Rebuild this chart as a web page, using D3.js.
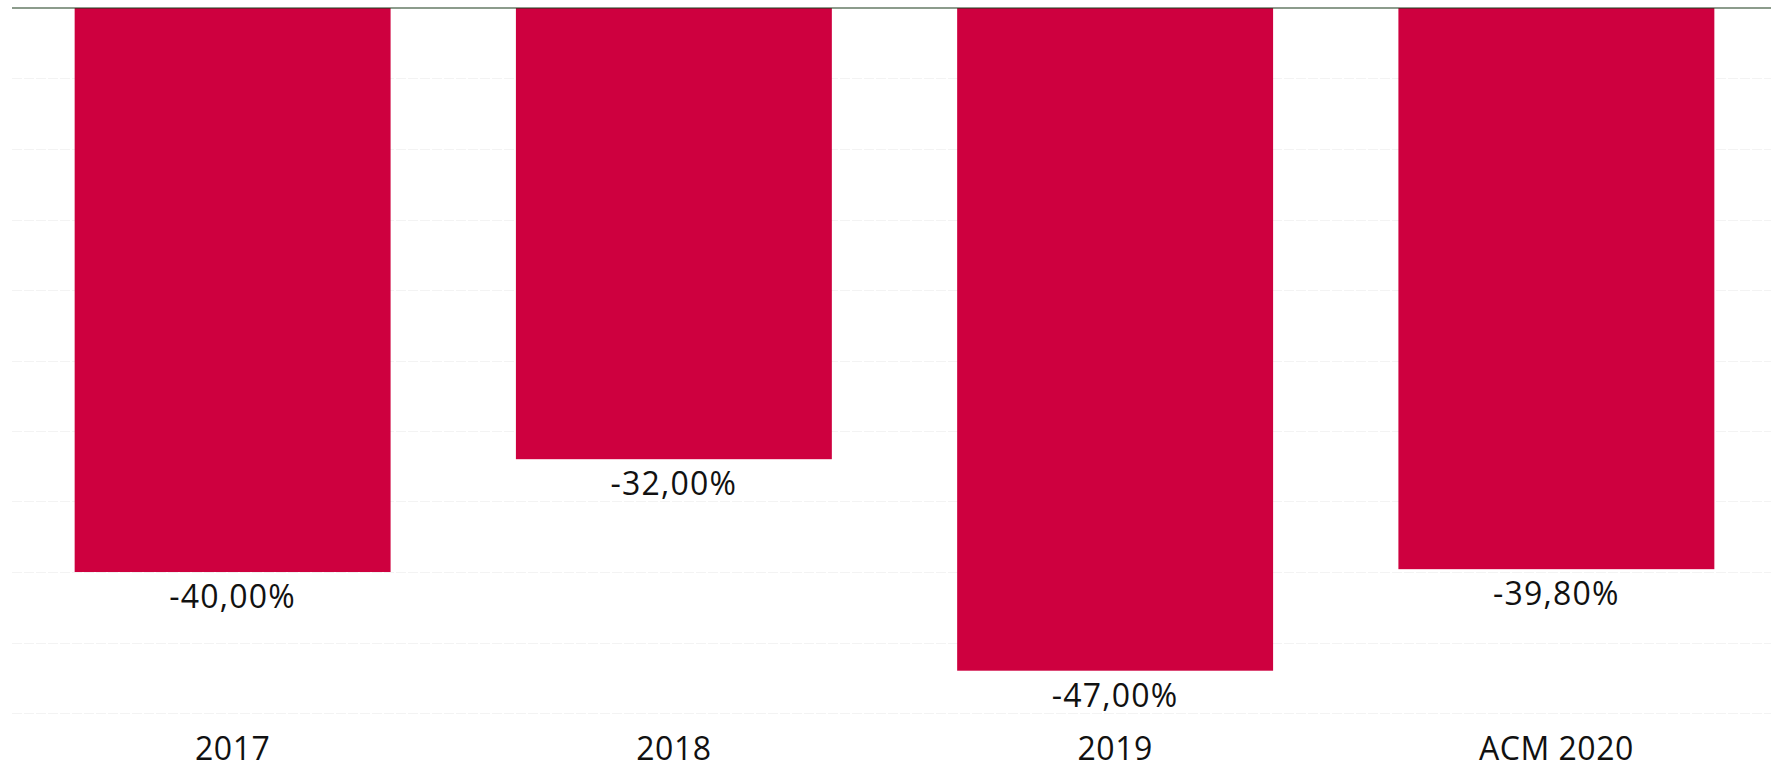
<!DOCTYPE html>
<html>
<head>
<meta charset="utf-8">
<script src="https://cdn.jsdelivr.net/npm/d3@7"></script>
<style>
  html, body { margin: 0; padding: 0; background: #fff; }
  svg { display: block; }
  text { font-family: "Open Sans", "DejaVu Sans", sans-serif; fill: #111; }
</style>
</head>
<body>
<svg id="chart" width="1771" height="768"></svg>
<script>
const categories = ["2017", "2018", "2019", "ACM 2020"];
const values = [-40.00, -32.00, -47.00, -39.80];
const labels = ["-40,00%", "-32,00%", "-47,00%", "-39,80%"];
const gridTicks = [0, -5, -10, -15, -20, -25, -30, -35, -40, -45, -50];

const svg = d3.select("#chart");
const W = 1771;

const x = d3.scaleBand()
  .domain(categories)
  .range([12, 1777])
  .paddingInner(0.284)
  .paddingOuter(0.142);

const y = d3.scaleLinear()
  .domain([0, -50])
  .range([8, 713]);

// gridlines
svg.append("g")
  .selectAll("line")
  .data(gridTicks.slice(1))
  .join("line")
  .attr("x1", 12)
  .attr("x2", W)
  .attr("y1", d => Math.round(y(d)) + 0.5)
  .attr("y2", d => Math.round(y(d)) + 0.5)
  .attr("stroke", "#f3f3f3")
  .attr("stroke-width", 1)
  .attr("stroke-dasharray", "10,2");

// bars
svg.append("g")
  .selectAll("rect")
  .data(categories)
  .join("rect")
  .attr("x", d => x(d))
  .attr("width", x.bandwidth())
  .attr("y", (d, i) => y(Math.max(0, values[i])))
  .attr("height", (d, i) => Math.abs(y(values[i]) - y(0)))
  .attr("fill", "#CE003F");

// zero line
svg.append("line")
  .attr("x1", 12)
  .attr("x2", W)
  .attr("y1", y(0))
  .attr("y2", y(0))
  .attr("stroke", "#1b3a1b")
  .attr("stroke-width", 1.2);

// value labels
svg.append("g")
  .selectAll("text")
  .data(categories)
  .join("text")
  .attr("x", d => x(d) + x.bandwidth() / 2)
  .attr("y", (d, i) => y(values[i]) + 36)
  .attr("text-anchor", "middle")
  .attr("font-size", 32)
  .attr("letter-spacing", 1.2)
  .text((d, i) => labels[i]);

// category labels
const xAxis = d3.axisBottom(x).tickSize(0).tickPadding(0);
const ax = svg.append("g")
  .attr("transform", "translate(0,760)")
  .call(xAxis);
ax.select(".domain").remove();
ax.selectAll("text")
  .attr("dy", 0)
  .attr("y", 0)
  .attr("font-size", 32)
  .attr("letter-spacing", 0.5)
  .style("font-family", "'Open Sans', 'DejaVu Sans', sans-serif")
  .attr("fill", "#111");
</script>
</body>
</html>
